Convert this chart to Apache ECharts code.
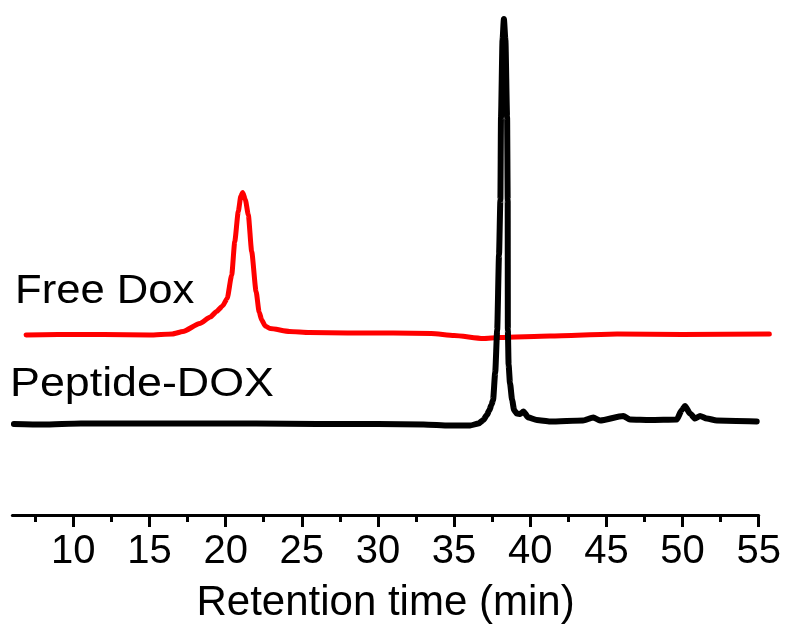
<!DOCTYPE html>
<html>
<head>
<meta charset="utf-8">
<title>HPLC chromatograms</title>
<script src="https://cdn.jsdelivr.net/npm/echarts@6/dist/echarts.min.js"></script>
<style>
  html, body { margin: 0; padding: 0; background: #ffffff; }
  #chart { width: 788px; height: 634px; }
</style>
</head>
<body>
<div id="chart"></div>
<script>
// Retention time (min) and detector signal (arbitrary units, offset traces)
const freeDoxTime = [6.9, 9.0, 12.0, 15.0, 16.5, 17.2, 18.3, 19.0, 19.4, 19.8, 20.1, 20.4, 20.6, 20.83, 21.0, 21.12, 21.3, 21.49, 21.71, 22.0, 22.2, 22.37, 22.6, 22.92, 24.2, 25.5, 28.0, 31.0, 33.5, 35.0, 36.9, 38.0, 41.3, 45.7, 50.0, 55.7];
const freeDoxSignal = [36.0, 36.1, 36.1, 36.0, 36.2, 36.7, 38.3, 39.6, 40.7, 41.8, 43.3, 48.0, 54.7, 60.7, 63.8, 64.5, 63.0, 60.0, 52.7, 44.7, 40.6, 39.0, 37.8, 37.3, 36.7, 36.5, 36.4, 36.4, 36.3, 35.9, 35.3, 35.5, 35.8, 36.2, 36.1, 36.2];

const peptideDoxTime = [6.1, 8.0, 10.5, 14.0, 18.0, 22.0, 26.0, 30.0, 33.0, 34.7, 36.05, 36.6, 36.92, 37.15, 37.32, 37.45, 37.56, 37.7, 37.83, 37.95, 38.04, 38.08, 38.18, 38.27, 38.37, 38.48, 38.52, 38.53, 38.58, 38.67, 38.81, 38.94, 39.11, 39.35, 39.55, 39.88, 40.43, 41.3, 43.47, 44.14, 44.58, 46.11, 46.55, 47.86, 49.62, 49.95, 50.16, 50.49, 50.82, 51.15, 51.59, 52.25, 54.87];
const peptideDoxSignal = [18.2, 18.1, 18.3, 18.3, 18.3, 18.3, 18.2, 18.2, 18.1, 17.9, 17.9, 18.3, 19.0, 20.0, 21.0, 22.0, 23.0, 28.5, 37.0, 52.0, 63.0, 79.6, 95.0, 99.2, 95.0, 79.6, 63.0, 37.0, 30.0, 26.4, 23.0, 21.0, 20.3, 20.2, 20.7, 19.5, 19.0, 18.7, 18.9, 19.5, 18.9, 19.8, 19.1, 19.0, 19.1, 21.0, 21.8, 20.3, 19.3, 19.8, 19.3, 18.9, 18.7];

const majorTicks = [10, 15, 20, 25, 30, 35, 40, 45, 50, 55];
const minorTicks = [7.5, 12.5, 17.5, 22.5, 27.5, 32.5, 37.5, 42.5, 47.5, 52.5];

const traceNames = ['Free Dox', 'Peptide-DOX'];
const axisTitle = 'Retention time (min)';

const zip = (xs, ys) => xs.map((x, i) => [x, ys[i]]);
const FONT = '"Liberation Sans", Arial, Helvetica, sans-serif';

// The visible time axis spans 6–55 min; the Free Dox run was recorded a little
// longer, so it lives on a hidden twin axis with the same px/min scale that
// simply reaches further right.
const PX_PER_MIN = (788 - 12.4 - 29.3) / (55 - 6);
const freeDoxEnd = 55.75;

const chart = echarts.init(document.getElementById('chart'));
chart.setOption({
  backgroundColor: '#ffffff',
  animation: false,
  grid: [
    { left: 12.4, right: 29.3, top: 15, bottom: 119, containLabel: false },
    { left: 12.4, right: 788 - 12.4 - (freeDoxEnd - 6) * PX_PER_MIN, top: 15, bottom: 119, containLabel: false }
  ],
  xAxis: [
    {
      type: 'value',
      gridIndex: 0,
      min: 6,
      max: 55,
      position: 'bottom',
      name: axisTitle,
      nameLocation: 'middle',
      nameGap: 67,
      nameTextStyle: { fontFamily: FONT, fontSize: 42, color: '#000' },
      axisLine: { show: true, onZero: false, lineStyle: { color: '#000', width: 3 } },
      axisTick: { show: true, customValues: majorTicks, length: 12, lineStyle: { color: '#000', width: 3 } },
      axisLabel: { show: true, customValues: majorTicks, margin: 17, fontFamily: FONT, fontSize: 40, color: '#000' },
      splitLine: { show: false }
    },
    {
      type: 'value',
      gridIndex: 0,
      min: 6,
      max: 55,
      position: 'bottom',
      offset: 0,
      axisLine: { show: false, onZero: false },
      axisTick: { show: true, customValues: minorTicks, length: 7, lineStyle: { color: '#000', width: 3 } },
      axisLabel: { show: false },
      splitLine: { show: false }
    },
    {
      type: 'value',
      gridIndex: 1,
      min: 6,
      max: freeDoxEnd,
      show: false,
      splitLine: { show: false }
    }
  ],
  yAxis: [
    { type: 'value', gridIndex: 0, min: 0, max: 100, show: false, splitLine: { show: false } },
    { type: 'value', gridIndex: 1, min: 0, max: 100, show: false, splitLine: { show: false } }
  ],
  graphic: [
    {
      type: 'text',
      x: 15,
      y: 292,
      scaleX: 1.09,
      style: { text: traceNames[0], font: '40px ' + FONT, fill: '#000', textAlign: 'left', textVerticalAlign: 'middle', align: 'left', verticalAlign: 'middle' }
    },
    {
      type: 'text',
      x: 10,
      y: 385,
      scaleX: 1.12,
      style: { text: traceNames[1], font: '40px ' + FONT, fill: '#000', textAlign: 'left', textVerticalAlign: 'middle', align: 'left', verticalAlign: 'middle' }
    }
  ],
  series: [
    {
      name: traceNames[0],
      type: 'line',
      xAxisIndex: 2,
      yAxisIndex: 1,
      data: zip(freeDoxTime, freeDoxSignal),
      showSymbol: false,
      smooth: 0.2,
      smoothMonotone: 'x',
      lineStyle: { color: '#ff0000', width: 5, join: 'round', cap: 'round' },
      z: 2
    },
    {
      name: traceNames[1],
      type: 'line',
      xAxisIndex: 0,
      yAxisIndex: 0,
      data: zip(peptideDoxTime, peptideDoxSignal),
      showSymbol: false,
      smooth: 0.2,
      smoothMonotone: 'x',
      lineStyle: { color: '#000000', width: 6, join: 'round', cap: 'round' },
      z: 3
    }
  ]
});
</script>
</body>
</html>
